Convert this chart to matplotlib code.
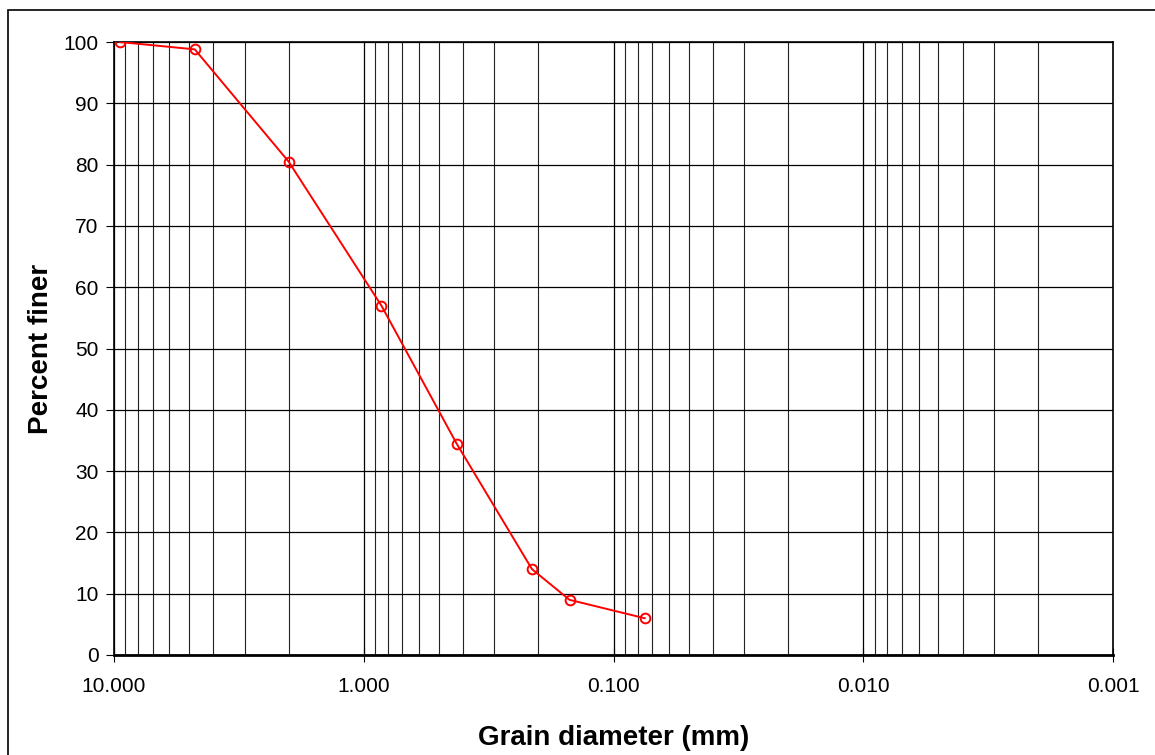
import numpy as np
import matplotlib.pyplot as plt
from matplotlib.patches import Rectangle
from matplotlib.ticker import FixedLocator, FixedFormatter, LogLocator, NullFormatter

plt.rcParams['font.family'] = ['Liberation Sans', 'DejaVu Sans']

# sieve sizes (mm) and percent passing
grain_mm = [9.5, 4.75, 2.0, 0.85, 0.425, 0.212, 0.15, 0.075]
pct_finer = [100.0, 98.8, 80.5, 57.0, 34.5, 14.0, 9.0, 6.0]

x_ticks = [10, 1, 0.1, 0.01, 0.001]
x_labels = ['10.000', '1.000', '0.100', '0.010', '0.001']
y_ticks = list(range(0, 101, 10))

fig = plt.figure(figsize=(11.55, 7.55), dpi=100)
ax = fig.add_axes([114 / 1155, 1 - 655 / 755, 999 / 1155, 613 / 755])

# outer chart border (only top/left visible inside the image)
fig.patches.append(Rectangle((8 / 1155, -0.1), 1.2, 1 - 10 / 755 + 0.1,
                             transform=fig.transFigure, fill=False,
                             edgecolor='black', linewidth=1.2))

ax.set_xscale('log')
ax.set_xlim(10, 0.001)
ax.set_ylim(0, 100)

ax.xaxis.set_major_locator(FixedLocator(x_ticks))
ax.xaxis.set_major_formatter(FixedFormatter(x_labels))
ax.xaxis.set_minor_locator(LogLocator(base=10, subs=np.arange(2, 10)))
ax.xaxis.set_minor_formatter(NullFormatter())
ax.set_yticks(y_ticks)

ax.grid(True, which='major', axis='both', color='black', linewidth=0.9)
ax.grid(True, which='minor', axis='x', color='#222222', linewidth=0.8)

ax.tick_params(axis='x', which='major', direction='inout', length=10,
               labelsize=15, pad=11)
ax.tick_params(axis='x', which='minor', length=0)
ax.tick_params(axis='y', direction='out', length=6, labelsize=15, pad=5)

for s in ax.spines.values():
    s.set_linewidth(1.2)
ax.spines['bottom'].set_linewidth(2)

ax.plot(grain_mm, pct_finer, color='red', linewidth=1.4, marker='o',
        markersize=7, markerfacecolor='none', markeredgecolor='red',
        markeredgewidth=1.4, zorder=5)

ax.set_xlabel('Grain diameter (mm)', fontsize=20, fontweight='bold', labelpad=21)
ax.set_ylabel('Percent finer', fontsize=20, fontweight='bold', labelpad=7)

fig.savefig('out.png', dpi=100)
